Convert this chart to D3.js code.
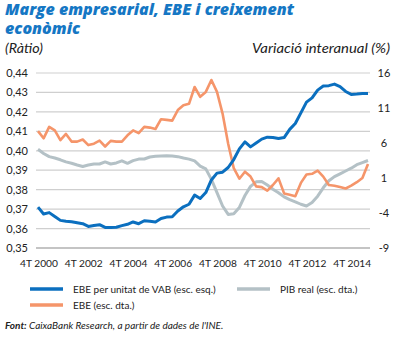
<!DOCTYPE html>
<html><head><meta charset="utf-8">
<script src="https://cdn.jsdelivr.net/npm/d3@7"></script>
<style>
html,body{margin:0;padding:0;background:#fff;}
svg{display:block;font-family:Lato,"Open Sans",sans-serif;}
</style></head>
<body><svg id="c" width="395" height="338"></svg>
<script>
const quarters = d3.range(60); // 4T 2000 .. 3T 2015
const xTickIdx = [0,8,16,24,32,40,48,56];
const xTickLabels = ["4T 2000","4T 2002","4T 2004","4T 2006","4T 2008","4T 2010","4T 2012","4T 2014"];
const leftTicks = [0.35,0.36,0.37,0.38,0.39,0.40,0.41,0.42,0.43,0.44];
const rightTicks = [-9,-4,1,6,11,16];

const ebeVab = [0.3710,0.3675,0.3682,0.3662,0.3642,0.3638,0.3635,0.3630,0.3625,0.3611,
 0.3616,0.3620,0.3606,0.3605,0.3607,0.3615,0.3622,0.3634,0.3625,0.3640,
 0.3638,0.3634,0.3652,0.3659,0.3661,0.3690,0.3712,0.3725,0.3772,0.3755,
 0.3785,0.3850,0.3885,0.3890,0.3914,0.3955,0.4010,0.4046,0.4020,0.4040,
 0.4060,0.4070,0.4068,0.4063,0.4068,0.4110,0.4140,0.4195,0.4250,0.4272,
 0.4312,0.4333,0.4335,0.4343,0.4330,0.4305,0.4290,0.4292,0.4295,0.4295];
const pib = [5.1,4.5,4.05,3.85,3.6,3.3,3.1,2.85,2.65,2.85,
 3.0,3.0,3.3,3.0,3.15,3.45,3.1,3.48,3.7,3.72,
 4.0,4.1,4.15,4.19,4.15,4.05,3.85,3.7,3.45,2.7,
 2.3,0.8,-1.1,-3.0,-4.2,-4.1,-3.2,-1.5,-0.2,0.45,
 0.5,0.0,-0.6,-1.1,-1.7,-2.1,-2.4,-2.75,-3.0,-2.5,
 -1.6,-0.4,0.6,1.2,1.6,2.0,2.4,2.9,3.2,3.5];
const ebe = [7.7,6.67,8.3,7.8,6.4,7.3,6.2,6.2,6.5,5.7,
 5.9,6.33,5.5,6.3,6.2,6.2,7.1,7.8,7.4,8.3,
 8.2,8.0,9.4,9.3,9.2,10.7,11.4,11.6,14.0,12.6,
 13.3,15.0,13.3,10.2,5.9,2.4,0.9,1.9,1.2,-0.2,
 -0.3,-0.8,0.0,0.95,-1.2,-1.4,-1.6,0.3,1.5,1.6,
 2.05,1.2,0.0,-0.1,-0.3,-0.5,-0.1,0.4,1.0,3.0];

const colBlue="#0b6fbf", colGrey="#b4c1c6", colOrange="#f5956a", titleCol="#1577c4";

const svg=d3.select("#c");
const x=d3.scaleLinear().domain([0,59]).range([38,368]);
const yL=d3.scaleLinear().domain([0.35,0.44]).range([248,73]);
const yR=d3.scaleLinear().domain([-9,16]).range([248,73]);

// titles
svg.append("text").attr("x",5).attr("y",15).attr("fill",titleCol)
 .attr("font-size",15).attr("font-weight","800").attr("font-style","italic")
 .attr("font-family","'Open Sans',sans-serif")
 .attr("textLength",289).attr("lengthAdjust","spacingAndGlyphs")
 .text("Marge empresarial, EBE i creixement");
svg.append("text").attr("x",5).attr("y",33.5).attr("fill",titleCol)
 .attr("font-size",15).attr("font-weight","800").attr("font-style","italic")
 .attr("font-family","'Open Sans',sans-serif")
 .attr("textLength",75).attr("lengthAdjust","spacingAndGlyphs")
 .text("econòmic");
svg.append("text").attr("x",5).attr("y",53).attr("font-size",13).attr("font-style","italic").attr("fill","#222")
 .attr("textLength",38).attr("lengthAdjust","spacingAndGlyphs").text("(Ràtio)");
svg.append("text").attr("x",390).attr("y",53).attr("text-anchor","end").attr("font-size",13).attr("font-style","italic").attr("fill","#222")
 .attr("textLength",138).attr("lengthAdjust","spacingAndGlyphs").text("Variació interanual (%)");

// grid
svg.append("g").selectAll("line").data(leftTicks).join("line")
 .attr("x1",36).attr("x2",370).attr("y1",d=>yL(d)).attr("y2",d=>yL(d))
 .attr("stroke",d=>d===0.35?"#8a8a8a":"#cfcfcf").attr("stroke-width",1.2);

// left axis labels
svg.append("g").selectAll("text").data(leftTicks).join("text")
 .attr("x",28).attr("y",d=>yL(d)+4).attr("text-anchor","end").attr("font-size",11).attr("fill","#222")
 .text(d=>d3.format(".2f")(d).replace(".",","));
// right axis labels
svg.append("g").selectAll("text").data(rightTicks).join("text")
 .attr("x",384).attr("y",d=>yR(d)+4).attr("text-anchor","middle").attr("font-size",11).attr("fill","#222")
 .text(d=>d<0?"-"+Math.abs(d):d);
// x labels
svg.append("g").selectAll("text").data(xTickIdx).join("text")
 .attr("x",d=>x(d)+1).attr("y",267).attr("text-anchor","middle").attr("font-size",10.2).attr("fill","#222")
 .text((d,i)=>xTickLabels[i]);

// lines
const lineR=d3.line().x((d,i)=>x(quarters[i])).y(d=>yR(d)).curve(d3.curveLinear);
const lineL=d3.line().x((d,i)=>x(quarters[i])).y(d=>yL(d)).curve(d3.curveLinear);
svg.append("path").attr("d",lineR(pib)).attr("fill","none").attr("stroke",colGrey).attr("stroke-width",3).attr("stroke-linejoin","round");
svg.append("path").attr("d",lineR(ebe)).attr("fill","none").attr("stroke",colOrange).attr("stroke-width",2.6).attr("stroke-linejoin","round");
svg.append("path").attr("d",lineL(ebeVab)).attr("fill","none").attr("stroke",colBlue).attr("stroke-width",3).attr("stroke-linejoin","round");

// legend
const leg=[{t:"EBE per unitat de VAB (esc. esq.)",c:colBlue,x:30,y:289},
 {t:"PIB real (esc. dta.)",c:colGrey,x:237,y:289},
 {t:"EBE (esc. dta.)",c:colOrange,x:30,y:305}];
const lg=svg.append("g").selectAll("g").data(leg).join("g");
lg.append("line").attr("x1",d=>d.x).attr("x2",d=>d.x+33).attr("y1",d=>d.y).attr("y2",d=>d.y)
 .attr("stroke",d=>d.c).attr("stroke-width",3.5);
lg.append("text").attr("x",d=>d.x+43).attr("y",d=>d.y+3.5).attr("font-size",10).attr("fill","#222").text(d=>d.t);

// source
const s=svg.append("text").attr("x",5).attr("y",329).attr("font-size",10).attr("font-style","italic").attr("fill","#222");
s.append("tspan").attr("font-weight","bold").text("Font:");
s.append("tspan").text(" CaixaBank Research, a partir de dades de l'INE.");
</script></body></html>
